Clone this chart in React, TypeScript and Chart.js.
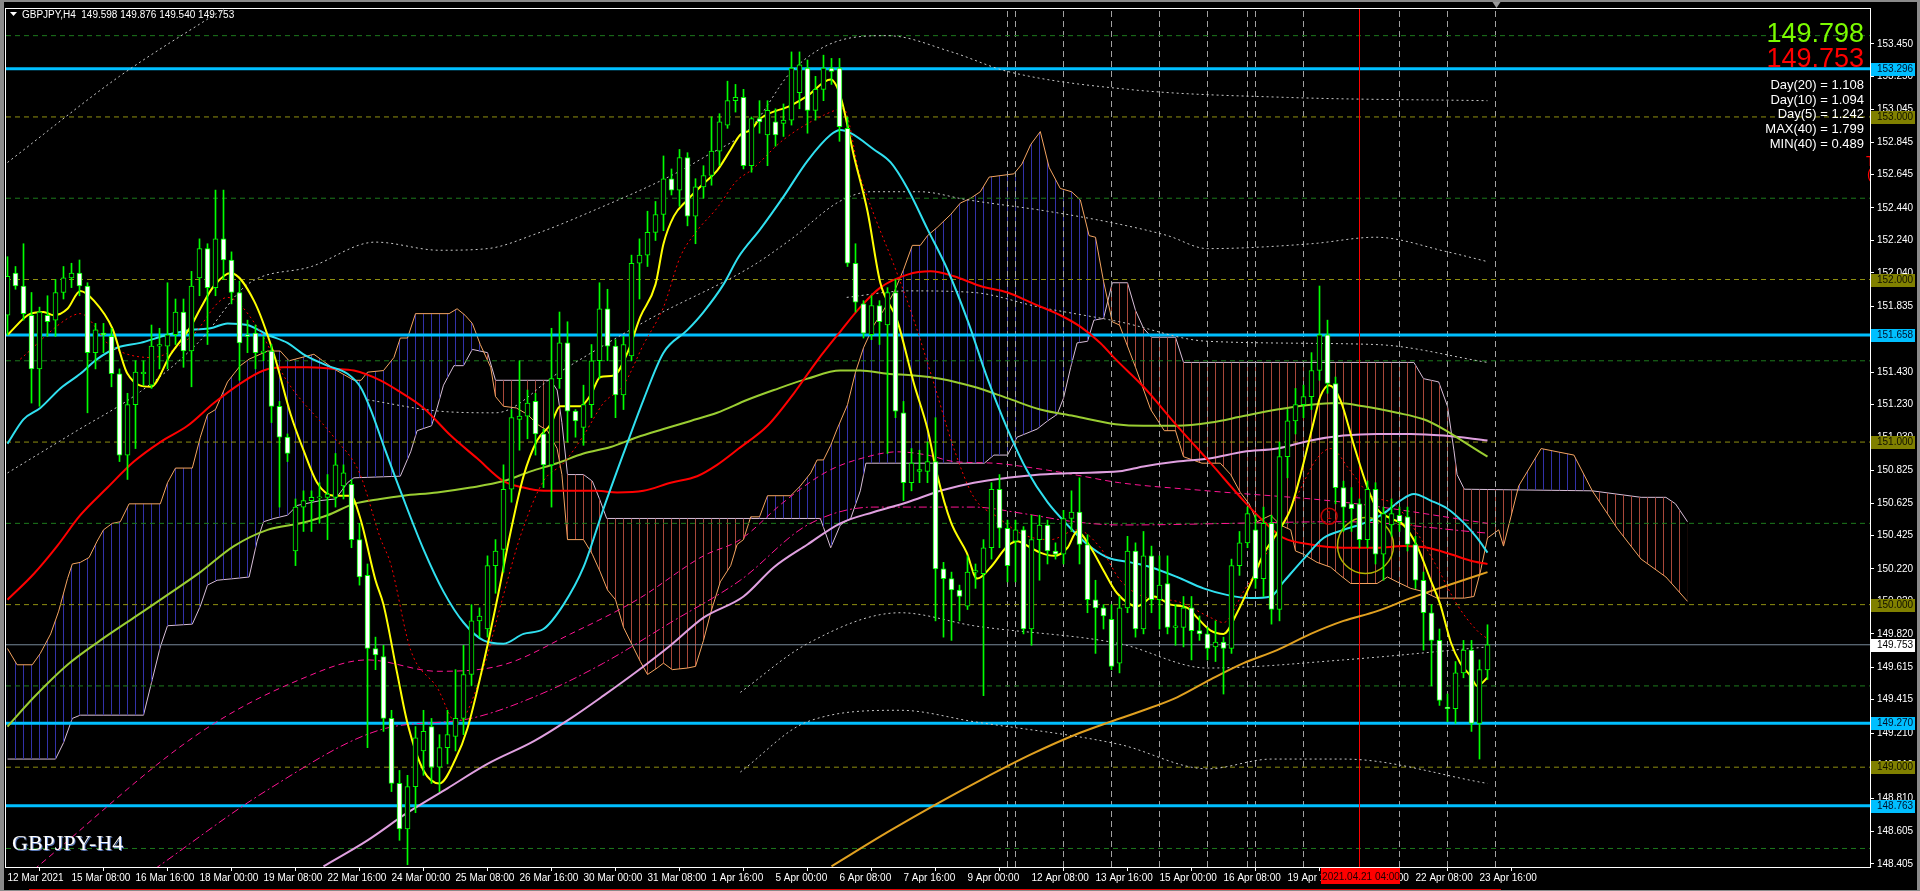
import React, { useEffect, useRef } from 'react';
import { Chart, registerables } from 'chart.js';

Chart.register(...registerables);

type P = [number, number | null];

// ---------------- candles (H4 bars, index 0 = 12 Mar 2021 00:00) ----------------
const opens = [
  151.78,152.04,151.96,151.78,151.45,151.78,151.75,151.92,152.01,152.04,
  151.96,151.55,151.67,151.65,151.42,150.92,151.23,151.42,151.35,151.59,
  151.59,151.66,151.80,151.56,152.01,152.19,151.95,152.25,152.12,151.92,
  151.66,151.67,151.55,151.56,151.22,151.03,150.33,150.60,150.64,150.66,
  150.66,150.66,150.73,150.74,150.40,150.18,149.73,149.68,149.30,148.90,
  148.62,148.88,149.10,149.25,149.00,149.12,149.19,149.30,149.57,149.90,
  149.85,150.24,150.34,150.71,151.14,151.16,151.25,151.05,150.86,151.39,
  151.61,151.19,151.09,151.23,151.50,151.82,151.59,151.29,151.53,152.10,
  152.15,152.29,152.40,152.62,152.55,152.75,152.39,152.57,152.64,152.79,
  152.95,153.10,153.12,152.70,152.99,152.89,152.97,152.96,152.98,153.15,
  153.30,153.04,153.17,153.30,153.30,152.93,152.10,151.85,151.66,151.84,
  151.72,151.92,151.18,150.75,150.82,150.82,150.88,150.22,150.16,150.09,
  149.99,150.20,150.19,150.35,150.71,150.47,150.39,150.46,149.85,150.40,
  150.49,150.33,150.31,150.53,150.57,150.37,150.03,149.98,149.91,149.64,
  149.98,150.33,149.85,150.30,150.03,150.13,149.86,149.86,149.98,149.84,
  149.82,149.74,149.77,149.73,150.24,150.38,150.46,150.16,150.50,149.97,
  150.91,151.13,151.23,151.28,151.44,151.66,151.36,150.72,150.62,150.62,
  150.40,150.71,150.31,150.49,150.55,150.54,150.37,150.15,149.95,149.78,
  149.37,149.36,149.58,149.72,149.27,149.598,
];
const highs = [
  152.14,152.08,152.22,151.92,151.83,151.90,152.00,152.08,152.10,152.12,
  151.98,151.73,151.73,151.70,151.45,151.30,151.50,151.50,151.72,151.70,
  151.98,151.88,151.88,152.05,152.25,152.22,152.55,152.55,152.17,151.99,
  151.75,151.72,151.65,151.60,151.25,151.05,150.65,150.70,150.70,150.75,
  150.80,150.93,150.86,150.77,150.50,150.25,149.80,149.75,149.35,148.98,
  148.95,149.25,149.35,149.30,149.20,149.35,149.60,149.75,150.00,149.98,
  150.30,150.40,150.86,151.20,151.50,151.32,151.30,151.08,151.70,151.80,
  151.74,151.20,151.35,151.60,151.98,151.94,151.63,151.65,152.15,152.25,
  152.42,152.48,152.76,152.68,152.80,152.78,152.62,152.70,153.00,153.02,
  153.22,153.20,153.17,153.00,153.10,153.10,153.05,153.08,153.40,153.40,
  153.35,153.25,153.38,153.36,153.36,153.00,152.22,151.87,151.90,151.87,
  151.95,152.00,151.25,150.96,150.95,151.00,151.15,150.26,150.20,150.12,
  150.30,150.25,150.40,150.75,150.80,150.52,150.52,150.48,150.55,150.55,
  150.52,150.38,150.58,150.70,150.78,150.43,150.15,150.00,150.00,150.05,
  150.42,150.38,150.45,150.36,150.30,150.30,150.00,150.05,150.05,149.93,
  149.86,149.90,149.80,150.28,150.45,150.60,150.55,150.60,150.55,151.00,
  151.20,151.33,151.35,151.55,151.96,151.75,151.40,150.76,150.72,150.65,
  150.76,150.75,150.60,150.65,150.60,150.60,150.42,150.20,150.00,149.85,
  149.45,149.65,149.78,149.78,149.66,149.876,
];
const lows = [
  151.66,151.94,151.75,151.24,151.22,151.65,151.65,151.88,151.95,151.90,
  151.18,151.45,151.55,151.34,150.88,150.77,150.96,151.35,151.33,151.45,
  151.45,151.60,151.46,151.34,151.90,151.60,151.90,152.00,151.85,151.38,
  151.55,151.45,151.50,151.12,150.60,150.88,150.24,150.45,150.45,150.50,
  150.40,150.60,150.65,150.35,150.12,149.12,149.60,149.22,148.85,148.55,
  148.40,148.72,148.95,148.90,148.85,149.02,149.10,149.20,149.50,149.80,
  149.80,150.07,150.20,150.63,150.95,151.02,150.92,150.72,150.60,151.33,
  151.00,151.03,150.98,151.15,151.39,151.50,151.15,151.20,151.50,151.88,
  152.08,152.24,152.30,152.52,152.45,152.33,152.22,152.50,152.58,152.70,
  152.93,153.03,152.68,152.66,152.90,152.70,152.82,152.88,152.95,153.05,
  152.90,152.98,153.10,153.20,152.85,152.08,151.80,151.64,151.63,151.60,
  150.93,151.15,150.64,150.70,150.75,150.75,149.90,149.80,149.78,149.90,
  149.97,150.10,149.44,150.28,150.35,150.14,150.14,149.82,149.75,150.15,
  150.25,150.28,150.25,150.45,150.25,149.95,149.70,149.85,149.60,149.58,
  149.95,149.80,149.82,149.95,149.85,149.82,149.75,149.74,149.66,149.78,
  149.66,149.65,149.45,149.70,150.18,150.35,150.10,150.05,149.88,149.90,
  150.78,151.05,151.15,151.20,151.38,151.30,150.62,150.45,150.45,150.35,
  150.35,150.25,150.15,150.42,150.45,150.33,150.10,149.72,149.50,149.38,
  149.28,149.27,149.55,149.22,149.05,149.540,
];
const closes = [
  152.02,151.96,151.79,151.45,151.80,151.74,151.92,152.01,152.04,151.96,
  151.55,151.69,151.66,151.42,150.92,151.23,151.43,151.43,151.59,151.60,
  151.66,151.80,151.56,151.96,152.19,151.95,152.25,152.12,151.92,151.61,
  151.65,151.55,151.56,151.22,151.03,150.93,150.60,150.64,150.66,150.66,
  150.68,150.86,150.81,150.40,150.17,149.73,149.69,149.30,148.90,148.62,
  148.88,149.18,149.22,149.00,149.12,149.20,149.30,149.57,149.90,149.93,
  150.24,150.33,150.71,151.15,151.16,151.24,151.05,150.86,151.39,151.61,
  151.19,151.13,151.23,151.50,151.82,151.59,151.29,151.60,152.10,152.15,
  152.29,152.40,152.62,152.55,152.75,152.39,152.57,152.64,152.79,152.97,
  153.10,153.12,152.70,152.99,152.97,153.04,152.89,152.98,153.30,153.32,
  153.04,153.17,153.30,153.28,152.94,152.10,151.86,151.67,151.84,151.74,
  151.92,151.19,150.75,150.87,150.83,150.88,150.22,150.16,150.09,150.05,
  150.20,150.21,150.35,150.71,150.47,150.24,150.46,149.85,150.40,150.49,
  150.33,150.31,150.53,150.57,150.37,150.03,149.98,149.93,149.62,149.98,
  150.33,149.85,150.30,150.03,150.12,149.86,149.87,149.98,149.84,149.82,
  149.73,149.77,149.73,150.24,150.38,150.56,150.16,150.50,149.97,150.91,
  151.13,151.23,151.28,151.44,151.66,151.36,150.72,150.60,150.59,150.40,
  150.71,150.31,150.56,150.56,150.51,150.37,150.15,149.95,149.78,149.41,
  149.36,149.58,149.72,149.27,149.60,149.753,
];

// ---------------- axis ticks ----------------
const xTickBars = [0,8,16,24,32,40,48,56,64,72,80,88,96,104,112,120,128,136,144,152,160,168,176,184];
const xTickLabels = [
  '12 Mar 2021','15 Mar 08:00','16 Mar 16:00','18 Mar 00:00','19 Mar 08:00','22 Mar 16:00',
  '24 Mar 00:00','25 Mar 08:00','26 Mar 16:00','30 Mar 00:00','31 Mar 08:00','1 Apr 16:00',
  '5 Apr 00:00','6 Apr 08:00','7 Apr 16:00','9 Apr 00:00','12 Apr 08:00','13 Apr 16:00',
  '15 Apr 00:00','16 Apr 08:00','19 Apr 16:00','21 Apr 00:00','22 Apr 08:00','23 Apr 16:00',
];
const yTicks = [
  153.450,153.250,153.045,152.845,152.645,152.440,152.240,152.040,151.835,151.635,
  151.430,151.230,151.030,150.825,150.625,150.425,150.220,150.020,149.820,149.615,
  149.415,149.210,149.010,148.810,148.605,148.405,
];

// ---------------- levels & markers ----------------
const cyanLevels = [153.296, 151.658, 149.270, 148.763];
const roundLevels = [153.0, 152.0, 151.0, 150.0, 149.0];
const halfLevels = [153.5, 152.5, 151.5, 150.5, 149.5, 148.5];
const lastPrice = 149.753;
const bidPrice = 149.798;
const separatorBars = [125, 126, 132, 138, 144, 150, 155, 156, 162, 174, 180, 186];
const markerBar = 169;
const markerLabel = '2021.04.21 04:00';
const headerText = 'GBPJPY,H4  149.598 149.876 149.540 149.753';
const symbolText = 'GBPJPY-H4';
const statLabels = ['Day(20) = 1.108', 'Day(10) = 1.094', 'Day(5) = 1.242', 'MAX(40) = 1.799', 'MIN(40) = 0.489'];
const edgeText = ['T', '('];
const circleMark = { x: 169.75, y: 150.364 };
const smallMark = { x: 165.2, y: 150.544 };

// ---------------- indicator lines (bar index, price) ----------------
const maFast: P[] = [
  [0,151.66],[2.9,151.79],[4.5,151.80],[5.8,151.78],[7.5,151.82],[9.1,151.93],[10.8,151.87],[13.1,151.70],
  [15,151.42],[17.9,151.34],[20.4,151.54],[22.9,151.71],[24.1,151.82],[25.8,151.96],[27.9,152.04],[30.8,151.87],
  [33.3,151.54],[35.4,151.17],[37,150.95],[38.7,150.75],[40.8,150.67],[42.9,150.67],[44.1,150.53],[46,150.15],
  [47,150.00],[48.7,149.58],[50,149.27],[52,148.98],[54,148.90],[56,149.05],[57.5,149.24],[59.5,149.64],
  [61.2,150.03],[62.9,150.45],[64.5,150.79],[66.2,151.01],[67.9,151.11],[69.1,151.22],[71.6,151.22],[72.9,151.29],
  [74.1,151.40],[75.8,151.41],[77.5,151.55],[79.1,151.77],[81,151.97],[82,152.22],[83.3,152.39],[85,152.49],
  [87,152.59],[88.7,152.67],[90.4,152.80],[91.6,152.89],[92.9,152.92],[94.1,152.99],[97.9,153.07],[100,153.13],
  [102.9,153.23],[104.1,153.13],[105.8,152.76],[107.5,152.42],[109.1,151.98],[111.2,151.75],[113.3,151.36],[115,151.08],
  [116.2,150.80],[117.9,150.51],[119.9,150.32],[121.2,150.16],[122.9,150.23],[125,150.36],[126.2,150.39],[127.9,150.35],
  [129.1,150.32],[130.8,150.30],[132.5,150.35],[133.7,150.45],[135.4,150.35],[137,150.21],[138.7,150.07],[141.2,149.99],
  [143.3,150.05],[145.4,150.00],[147.5,149.98],[148.7,149.92],[150.4,149.84],[152,149.82],[153.7,149.95],[155.4,150.13],
  [157,150.31],[158.7,150.44],[160.4,150.59],[162,150.87],[163.3,151.13],[164.1,151.28],[165.2,151.35],[166.6,151.26],
  [168.3,150.98],[170,150.72],[171.2,150.59],[172.9,150.53],[174.5,150.49],[176.2,150.36],[177.9,150.15],[179.1,150.00],
  [180.4,149.77],[181.6,149.64],[182.9,149.56],[183.7,149.50],[185,149.55],
];
const maDotted: P[] = [
  [1.6,151.51],[7.5,151.76],[9.1,151.79],[12.9,151.59],[18,151.52],[23,151.65],[27.5,151.89],[31.2,151.71],
  [35,151.37],[40.8,151.03],[44,150.81],[46.6,150.41],[47.9,150.25],[50.4,149.72],[53.7,149.49],[56.2,149.27],
  [59.1,149.55],[62,150.06],[64.1,150.42],[67,150.76],[69.5,150.87],[72,151.04],[74.5,151.24],[77,151.35],
  [79.5,151.60],[82,151.83],[84.1,152.14],[86.2,152.30],[88.7,152.44],[91.2,152.61],[92.9,152.67],[97,152.86],
  [102,153.01],[104.5,153.05],[106.5,152.65],[108.3,152.40],[110.8,152.09],[113.3,151.75],[115.8,151.36],[118.3,150.96],
  [120.8,150.66],[123.7,150.54],[127,150.43],[130.4,150.40],[133.7,150.46],[136.6,150.35],[139.1,150.15],[142,150.05],
  [146.2,150.02],[150.4,149.92],[152,149.89],[154.5,150.08],[157.9,150.36],[161.2,150.67],[163.7,150.90],[165.4,150.96],
  [167.9,150.82],[170.4,150.67],[173.3,150.62],[176.2,150.44],[178.7,150.23],[181.2,150.00],[183.7,149.84],[185,149.79],
];
const maCyan: P[] = [
  [0,150.99],[2,151.14],[4.1,151.21],[6.6,151.33],[9.1,151.42],[11.2,151.51],[13.7,151.58],[16.6,151.61],
  [20,151.66],[22.9,151.69],[25.4,151.70],[27.5,151.73],[30,151.72],[32.5,151.66],[35,151.61],[37,151.54],
  [40,151.47],[42.5,151.42],[44.1,151.34],[45.4,151.20],[47,150.98],[49.5,150.65],[52,150.34],[54.5,150.08],
  [57,149.89],[59.5,149.78],[62,149.76],[64.5,149.82],[67,149.85],[69.5,150.00],[72,150.23],[74.5,150.59],
  [77,150.93],[79.5,151.26],[82,151.55],[85,151.69],[87,151.80],[89.5,151.97],[91.4,152.14],[94.1,152.31],
  [97,152.51],[100,152.73],[102.9,152.89],[104.1,152.92],[105.4,152.90],[108.3,152.80],[110.4,152.72],[112.5,152.56],
  [115,152.31],[117.5,152.06],[120,151.75],[122.5,151.39],[125,151.08],[127.5,150.82],[130,150.63],[132.5,150.49],
  [135,150.37],[137.5,150.29],[140.4,150.26],[142.9,150.23],[146.2,150.17],[149.5,150.10],[152.4,150.06],[155.4,150.04],
  [157.9,150.05],[159.5,150.14],[162,150.28],[164.5,150.41],[167,150.46],[169.5,150.50],[172,150.56],[174.1,150.64],
  [175.8,150.68],[177.9,150.64],[180,150.59],[182.1,150.50],[183.7,150.41],[185,150.32],
];
const maRed: P[] = [
  [0,150.03],[3.3,150.19],[6.2,150.36],[9.1,150.55],[12.5,150.72],[15.8,150.88],[19.1,151.00],[22.5,151.10],
  [25.8,151.24],[29.1,151.36],[32,151.44],[34.5,151.46],[37.5,151.46],[40.8,151.45],[43.3,151.44],[46.6,151.38],
  [48.7,151.32],[52,151.21],[55.4,151.04],[58.7,150.90],[62,150.76],[64.5,150.72],[67,150.70],[70.4,150.70],
  [73.7,150.70],[76.2,150.69],[79.5,150.70],[82.9,150.75],[86.2,150.79],[88.7,150.86],[91.4,150.96],[95,151.10],
  [98.3,151.30],[101.2,151.50],[104.1,151.68],[106.6,151.83],[109.1,151.95],[112.5,152.03],[115.4,152.05],[118.3,152.02],
  [121.6,151.96],[125,151.92],[128.3,151.85],[131.6,151.78],[134.1,151.71],[136.6,151.61],[138.5,151.51],[142,151.34],
  [146.2,151.10],[150.4,150.87],[154.5,150.64],[157.5,150.49],[159.5,150.41],[162.9,150.37],[167,150.35],[171.2,150.35],
  [174.5,150.36],[177.5,150.35],[180.4,150.31],[182.9,150.27],[185,150.25],
];
const maLime: P[] = [
  [0,149.25],[3.3,149.43],[7.5,149.63],[11.6,149.78],[15.8,149.92],[20,150.06],[24.1,150.20],[28.3,150.36],
  [32.5,150.46],[36.6,150.50],[40,150.55],[43.3,150.62],[46.6,150.65],[49.5,150.67],[53.7,150.69],[57.9,150.72],
  [62,150.76],[65.4,150.82],[68.7,150.87],[72,150.93],[75.4,150.97],[78.7,151.03],[82,151.08],[85.4,151.13],
  [88.7,151.18],[92.5,151.26],[95.8,151.32],[100,151.39],[104.1,151.44],[106.6,151.44],[110,151.42],[113.3,151.41],
  [116.6,151.39],[120.8,151.34],[125,151.27],[129.1,151.20],[133.3,151.16],[138.5,151.11],[142,151.10],[146.2,151.10],
  [150.4,151.12],[154.5,151.16],[158.7,151.20],[162.9,151.23],[166.2,151.24],[169.5,151.22],[173.7,151.18],[177,151.14],
  [179.5,151.08],[182.1,151.00],[185,150.91],
];
const maPlum: P[] = [
  [39.5,148.39],[45,148.55],[50,148.72],[55,148.87],[60,149.02],[65.8,149.16],[70.4,149.30],[74.5,149.44],
  [78.7,149.59],[82.9,149.75],[87,149.92],[92,150.05],[95.8,150.23],[100,150.37],[104.1,150.50],[108.3,150.57],
  [112.5,150.63],[116.6,150.70],[120.8,150.75],[125,150.78],[129.1,150.80],[133.3,150.81],[139,150.82],[142,150.85],
  [146.2,150.88],[150.4,150.90],[154.5,150.94],[158.7,150.96],[162.9,151.01],[167,151.04],[171.2,151.05],[175.4,151.05],
  [179.5,151.04],[185,151.01],
];
const maGold: P[] = [
  [103,148.39],[110,148.60],[116,148.77],[122,148.93],[128,149.08],[134,149.21],[137.9,149.28],[142,149.35],
  [146.2,149.43],[150.4,149.54],[154.5,149.64],[158.7,149.72],[162.9,149.82],[167,149.90],[171.2,149.96],[175.4,150.04],
  [179.5,150.11],[185,150.20],
];
const pinkDash: P[] = [
  [3.3,148.37],[24,149.21],[36.6,149.54],[45,149.66],[53.7,149.59],[62,149.63],[70.4,149.82],[78.7,150.03],
  [87,150.30],[91.6,150.40],[97,150.63],[102.5,150.82],[107.5,150.91],[111.2,150.94],[115,150.92],[118.3,150.88],
  [123.3,150.87],[128.3,150.84],[133.3,150.80],[139,150.75],[150,150.70],[167,150.63],[185,150.50],
];
const pinkDashDot: P[] = [
  [18.3,148.37],[32.5,148.86],[46.6,149.23],[57.9,149.30],[66.2,149.44],[74.5,149.64],[82.9,149.89],[91.6,150.15],
  [100,150.49],[108.3,150.60],[120.8,150.60],[127,150.56],[133.3,150.51],[139,150.49],[167,150.51],[185,150.44],
];
const envOuterLeft: P[] = [[0,152.72],[14,153.25],[27.5,153.68]];
const envUpper: P[] = [
  [0,150.81],[8,151.05],[16.6,151.31],[24,151.62],[30,151.97],[38,152.08],[46,152.23],[54,152.18],
  [60,152.19],[66,152.28],[74,152.44],[83,152.64],[87,152.75],[93,152.94],[98,153.28],[104,153.47],
  [110,153.50],[118,153.40],[125,153.28],[140,153.17],[160,153.12],[185,153.10],
];
const envMid: P[] = [
  [45,151.26],[54,151.19],[61,151.18],[69,151.43],[80,151.75],[93,152.08],[98,152.25],[104,152.48],
  [108,152.54],[114,152.54],[120,152.49],[130,152.42],[139,152.34],[145,152.27],[150,152.19],[163,152.22],
  [171,152.26],[180,152.17],[185,152.11],
];
const envInner: P[] = [
  [104.9,151.89],[112.5,151.93],[120.8,151.92],[129,151.83],[139,151.74],[150,151.62],[171,151.60],[185,151.49],
];
const envLower: P[] = [
  [91.6,149.46],[100,149.76],[111.6,149.95],[120.8,149.87],[139,149.76],[150,149.61],[167,149.66],[185,149.74],
];
const envLowerOuter: P[] = [
  [91.6,148.97],[100,149.28],[111.6,149.35],[120.8,149.28],[139,149.14],[150,148.99],[158,149.05],[167,149.05],[185,148.90],
];

// ---------------- Ichimoku cloud spans ----------------
const spanA: P[] = [
  [0,149.73],[1.2,149.63],[3.1,149.63],[4.1,149.70],[5.4,149.82],[6.4,149.96],[7.5,150.16],[8.1,150.25],
  [9.1,150.26],[10.2,150.29],[11.2,150.39],[12,150.46],[13.1,150.50],[14.1,150.51],[15.2,150.62],[19.1,150.62],
  [20,150.75],[21,150.84],[23.1,150.84],[24.1,151.03],[25,151.17],[26,151.20],[27.5,151.37],[28.3,151.42],
  [29.1,151.47],[30.2,151.51],[32.5,151.56],[34.1,151.56],[35.2,151.50],[38.3,151.54],[40.8,151.45],[43.3,151.38],
  [44.2,151.38],[45,151.43],[47,151.44],[48.3,151.52],[49.1,151.64],[50,151.64],[51,151.79],[55.2,151.79],
  [56.2,151.82],[57.2,151.78],[58.1,151.73],[59.1,151.60],[60.4,151.46],[61,151.28],[62,151.22],[63.6,151.21],
  [65,151.17],[66.2,151.11],[67.5,151.07],[68.7,150.96],[69.3,150.80],[70,150.40],[72,150.40],[73.1,150.31],
  [74.1,150.20],[75,150.09],[76,150.03],[77,149.86],[78.3,149.73],[79.1,149.65],[80,149.57],[81.2,149.61],
  [82,149.64],[83.1,149.60],[85,149.61],[86,149.62],[87,149.78],[87.9,149.95],[89.1,150.14],[90.4,150.24],
  [91.2,150.37],[92,150.40],[92.9,150.54],[94,150.54],[95,150.67],[97.9,150.67],[99.1,150.73],[100.4,150.81],
  [101.2,150.89],[102,150.89],[102.9,150.98],[103.7,151.08],[105,151.23],[106,151.43],[107,151.58],[108.3,151.72],
  [109.5,151.81],[110.8,151.92],[112,152.06],[113.1,152.21],[114.1,152.21],[115,152.27],[116.2,152.32],[117.9,152.40],
  [119.1,152.47],[120.4,152.50],[121.6,152.54],[122.7,152.63],[125.8,152.65],[126.8,152.71],[127.9,152.83],[129.1,152.91],
  [130.2,152.69],[131.6,152.56],[133,152.54],[134.1,152.49],[135.2,152.27],[136,152.26],[137,151.99],[138.1,151.74],
  [139,151.72],[141,151.46],[142.9,151.20],[144.6,151.07],[146,151.07],[147,150.91],[149.3,150.87],[151.6,150.87],
  [152.9,150.80],[154.1,150.69],[155.2,150.62],[156.2,150.51],[157.9,150.55],[159.1,150.49],[160.4,150.46],[161,150.33],
  [162,150.31],[163.7,150.26],[165.4,150.23],[166.6,150.18],[167.9,150.13],[171.2,150.13],[172.5,150.17],[173.7,150.14],
  [175.4,150.10],[177,150.08],[178.7,150.04],[182.1,150.04],[183.3,150.05],[184.1,150.20],[185,150.41],[186.4,150.46],
  [187,150.36],[188.9,150.73],[191.7,150.96],[195.8,150.92],[198.1,150.70],[201.2,150.47],[204.2,150.28],[207.3,150.17],
  [210,150.02],
];
const spanB: P[] = [
  [0,149.05],[6,149.05],[7,149.15],[8.1,149.30],[9.1,149.32],[17,149.32],[18.1,149.54],[19.1,149.74],
  [20,149.87],[23.1,149.88],[24.1,149.99],[25,150.12],[26.2,150.15],[28.3,150.16],[30.2,150.17],[31.2,150.39],
  [32,150.51],[33.3,150.53],[35,150.55],[36.2,150.61],[39.1,150.64],[41,150.65],[42.5,150.75],[43.3,150.78],
  [49.1,150.79],[50.4,150.94],[51.2,151.07],[53,151.10],[53.7,151.21],[54.5,151.35],[55.8,151.47],[57,151.47],
  [58.1,151.57],[60,151.55],[61,151.38],[67.9,151.38],[68.7,151.32],[69.3,151.12],[70,150.80],[72,150.80],
  [73.1,150.76],[74,150.65],[74.9,150.53],[101.6,150.53],[102.9,150.35],[104.1,150.49],[105.4,150.53],[106.6,150.70],
  [107.3,150.87],[122.1,150.87],[123.3,150.92],[125,150.92],[126.2,151.03],[128.7,151.08],[130,151.13],[131.2,151.17],
  [132,151.27],[132.9,151.46],[133.7,151.61],[135,151.62],[135.8,151.75],[137,151.76],[138.1,151.98],[140,151.98],
  [141,151.81],[142,151.70],[143,151.645],[146,151.645],[147,151.49],[175.8,151.49],[177,151.39],[178.9,151.37],
  [180,151.22],[180.8,150.95],[181.2,150.80],[182.1,150.71],[198.1,150.70],[204.2,150.66],[207.3,150.66],[208.5,150.62],
  [210,150.51],
];

// ---------------- geometry of the scales ----------------
const X_MIN = -0.1875;
const X_MAX = 232.8125;
const Y_MIN = 148.386;
const Y_MAX = 153.664;

const FONT = '"Liberation Sans", Arial, sans-serif';

function hatch(ctx: CanvasRenderingContext2D, color: string): CanvasPattern | string {
  const c = document.createElement('canvas');
  c.width = 8;
  c.height = 1;
  const g = c.getContext('2d');
  if (!g) return color;
  g.fillStyle = color;
  g.fillRect(7, 0, 1, 1);
  return ctx.createPattern(c, 'repeat') || color;
}

const pts = (arr: P[]) => arr.map(([x, y]) => ({ x, y }));

function lineDs(data: P[], color: string, width: number, dash: number[], order: number, smooth = true, extra: any = {}) {
  return {
    type: 'line',
    data: pts(data),
    borderColor: color,
    borderWidth: width,
    borderDash: dash,
    pointRadius: 0,
    pointHoverRadius: 0,
    fill: false,
    order,
    tension: 0,
    cubicInterpolationMode: smooth ? 'monotone' : 'default',
    spanGaps: false,
    ...extra,
  };
}

const chromePlugin = {
  id: 'mtChrome',
  beforeDraw(chart: any) {
    const { ctx, width, height } = chart;
    ctx.save();
    ctx.fillStyle = '#000000';
    ctx.fillRect(0, 0, width, height);
    ctx.restore();
  },
  afterDraw(chart: any) {
    const { ctx, width, height, chartArea: a, scales } = chart;
    const ys = scales.y;
    const xs = scales.x;
    ctx.save();
    // window frame
    ctx.fillStyle = '#8a8a8a';
    ctx.fillRect(0, 0, width, 2);
    ctx.fillRect(0, 0, 4, height);
    ctx.fillRect(width - 3, 0, 3, height);
    ctx.fillRect(0, height - 1, width, 1);
    ctx.fillStyle = '#e00000';
    ctx.fillRect(29, height - 2, 1472, 1);
    // plot border
    ctx.strokeStyle = '#ffffff';
    ctx.lineWidth = 1;
    ctx.strokeRect(a.left - 0.5, a.top - 0.5, a.right - a.left + 1, a.bottom - a.top + 1);

    // header
    ctx.fillStyle = '#ffffff';
    ctx.beginPath();
    ctx.moveTo(10, 12);
    ctx.lineTo(17, 12);
    ctx.lineTo(13.5, 16);
    ctx.closePath();
    ctx.fill();
    ctx.font = '10px ' + FONT;
    ctx.textAlign = 'left';
    ctx.textBaseline = 'alphabetic';
    ctx.fillText(headerText, 22, 18);

    // shift marker
    const sx = Math.round(xs.getPixelForValue(186)) + 0.5;
    ctx.fillStyle = '#9a9a9a';
    ctx.beginPath();
    ctx.moveTo(sx - 4, 2);
    ctx.lineTo(sx + 4, 2);
    ctx.lineTo(sx, 8);
    ctx.closePath();
    ctx.fill();

    // big prices and stats
    ctx.textAlign = 'right';
    ctx.font = '27px ' + FONT;
    ctx.fillStyle = '#7cfc00';
    ctx.fillText(bidPrice.toFixed(3), 1864, 42);
    ctx.fillStyle = '#ff0000';
    ctx.fillText(lastPrice.toFixed(3), 1864, 67);
    ctx.font = '13px ' + FONT;
    ctx.fillStyle = '#ffffff';
    statLabels.forEach((t, k) => ctx.fillText(t, 1864, 89 + k * 14.7));

    // clipped text object at the right edge of the plot
    ctx.save();
    ctx.beginPath();
    ctx.rect(a.left, a.top, a.right - a.left, a.bottom - a.top);
    ctx.clip();
    ctx.fillStyle = '#ff0000';
    ctx.font = '14px ' + FONT;
    ctx.textAlign = 'left';
    ctx.fillText(edgeText[0], a.right - 4, 166);
    ctx.fillText(edgeText[1], a.right - 3, 179);
    ctx.restore();

    // symbol watermark
    ctx.textAlign = 'left';
    ctx.font = '22px "Liberation Serif", "Times New Roman", serif';
    ctx.fillStyle = '#5a78b8';
    ctx.fillText(symbolText, 13, 851);
    ctx.fillStyle = '#ffffff';
    ctx.fillText(symbolText, 12, 850);

    // small red mark text
    ctx.font = '10px ' + FONT;
    ctx.fillStyle = '#d00000';
    ctx.textAlign = 'center';
    ctx.textBaseline = 'middle';
    ctx.fillText('1', xs.getPixelForValue(smallMark.x), ys.getPixelForValue(smallMark.y));

    // price tags on the y axis
    const tag = (v: number, bg: string, fg: string) => {
      const y = Math.round(ys.getPixelForValue(v));
      ctx.fillStyle = bg;
      ctx.fillRect(a.right + 1, y - 6, 44, 13);
      ctx.fillStyle = fg;
      ctx.font = '10px ' + FONT;
      ctx.textAlign = 'left';
      ctx.textBaseline = 'middle';
      ctx.fillText(v.toFixed(3), a.right + 7, y + 0.5);
    };
    roundLevels.forEach((v) => tag(v, '#808000', '#101000'));
    cyanLevels.forEach((v) => tag(v, '#00bfff', '#00102a'));
    tag(lastPrice, '#ffffff', '#000000');

    // time tag on the x axis
    const mx = Math.round(xs.getPixelForValue(markerBar));
    ctx.fillStyle = '#ff0000';
    ctx.fillRect(mx - 39, a.bottom + 1, 79, 16);
    ctx.fillStyle = '#200000';
    ctx.font = '10px ' + FONT;
    ctx.textAlign = 'center';
    ctx.textBaseline = 'middle';
    ctx.fillText(markerLabel, mx + 1, a.bottom + 10);
    ctx.restore();
  },
};

export default function App() {
  const ref = useRef<HTMLCanvasElement | null>(null);

  useEffect(() => {
    const canvas = ref.current;
    if (!canvas) return;
    const ctx = canvas.getContext('2d') as CanvasRenderingContext2D;
    const blueHatch = hatch(ctx, '#3232a8');
    const brownHatch = hatch(ctx, '#a8483a');

    const bodyData = closes.map((c, i) => {
      let lo = Math.min(opens[i], c);
      let hi = Math.max(opens[i], c);
      if (hi - lo < 0.007) {
        const m = (hi + lo) / 2;
        lo = m - 0.0035;
        hi = m + 0.0035;
      }
      return { x: i, y: [lo, hi] };
    });
    const bodyFill = closes.map((c, i) => (c >= opens[i] ? '#000000' : '#ffffff'));
    const wickData = highs.map((h, i) => ({ x: i, y: [lows[i], h] }));

    const hLine = (v: number) => [[X_MIN, v], [X_MAX, v]] as P[];
    const vLine = (b: number) => [[b, Y_MIN], [b, Y_MAX]] as P[];

    const datasets: any[] = [
      {
        type: 'bar',
        data: bodyData,
        backgroundColor: bodyFill,
        borderColor: '#00ff00',
        borderWidth: 1,
        borderSkipped: false,
        barThickness: 5,
        grouped: false,
        order: 0,
      },
      {
        type: 'bar',
        data: wickData,
        backgroundColor: '#00ff00',
        borderWidth: 0,
        barThickness: 1,
        grouped: false,
        order: 1,
      },
      {
        type: 'bubble',
        data: [{ x: circleMark.x, y: circleMark.y, r: 28 }, { x: smallMark.x, y: smallMark.y, r: 8 }],
        backgroundColor: 'rgba(0,0,0,0)',
        borderColor: ['#b4b400', '#c00000'],
        borderWidth: 1.5,
        order: 2,
      },
      lineDs(maFast, '#ffff00', 2, [], 3),
      lineDs(maDotted, '#ff0000', 1, [2, 3], 4),
      lineDs(maCyan, '#30e0f0', 2, [], 5),
      lineDs(maRed, '#ff0000', 2, [], 6),
      lineDs(maLime, '#9acd32', 2, [], 7),
      lineDs(maPlum, '#e0a0e0', 2, [], 8),
      lineDs(maGold, '#e0a020', 2, [], 9),
      lineDs(pinkDash, '#ff1493', 1, [6, 4], 10),
      lineDs(pinkDashDot, '#ff1493', 1, [8, 3, 2, 3], 11),
      lineDs(envOuterLeft, '#c8c8c8', 1, [2, 3], 12),
      lineDs(envUpper, '#c8c8c8', 1, [2, 3], 12),
      lineDs(envMid, '#c8c8c8', 1, [2, 3], 12),
      lineDs(envInner, '#c8c8c8', 1, [2, 3], 12),
      lineDs(envLower, '#c8c8c8', 1, [2, 3], 12),
      lineDs(envLowerOuter, '#c8c8c8', 1, [2, 3], 12),
      lineDs(vLine(markerBar), '#ff0000', 1, [], 13, false),
      lineDs(hLine(lastPrice), '#778899', 1, [], 14, false),
      ...cyanLevels.map((v) => lineDs(hLine(v), '#00bfff', 3, [], 15, false)),
      ...roundLevels.map((v) => lineDs(hLine(v), '#8f8f10', 1, [5, 4], 16, false)),
      ...halfLevels.map((v) => lineDs(hLine(v), '#1d7a1d', 1, [5, 4], 16, false)),
      ...separatorBars.map((b) => lineDs(vLine(b), '#a0a0a0', 1, [6, 4], 17, false)),
      lineDs(spanA, '#f4a460', 1, [], 30, false, {
        fill: { target: '+1', above: blueHatch, below: brownHatch },
      }),
      lineDs(spanB, '#d8bfd8', 1, [], 31, false),
    ];

    const chart = new Chart(canvas, {
      type: 'bar',
      data: { datasets },
      plugins: [chromePlugin],
      options: {
        responsive: false,
        animation: false,
        devicePixelRatio: 1,
        events: [],
        layout: { autoPadding: false, padding: { left: 6, top: 6, right: 0, bottom: 0 } },
        plugins: {
          legend: { display: false },
          tooltip: { enabled: false },
        },
        scales: {
          x: {
            type: 'linear',
            min: X_MIN,
            max: X_MAX,
            offset: false,
            afterFit: (s: any) => { s.height = 24; },
            afterBuildTicks: (s: any) => { s.ticks = xTickBars.map((v) => ({ value: v })); },
            ticks: {
              color: '#ffffff',
              font: { family: FONT, size: 10 },
              align: 'start',
              maxRotation: 0,
              minRotation: 0,
              autoSkip: false,
              padding: 1,
              callback: (v: any) => {
                const k = xTickBars.indexOf(Number(v));
                return k >= 0 ? xTickLabels[k] : '';
              },
            },
            grid: { drawOnChartArea: false, drawTicks: true, tickLength: 4, tickColor: '#ffffff', color: '#ffffff' },
            border: { display: false },
          },
          y: {
            type: 'linear',
            position: 'right',
            min: Y_MIN,
            max: Y_MAX,
            afterFit: (s: any) => { s.width = 50; },
            afterBuildTicks: (s: any) => { s.ticks = yTicks.map((v) => ({ value: v })); },
            ticks: {
              color: '#ffffff',
              font: { family: FONT, size: 10 },
              padding: 3,
              autoSkip: false,
              callback: (v: any) => Number(v).toFixed(3),
            },
            grid: { drawOnChartArea: false, drawTicks: true, tickLength: 4, tickColor: '#ffffff', color: '#ffffff' },
            border: { display: false },
          },
        },
      } as any,
    } as any);

    return () => chart.destroy();
  }, []);

  return (
    <div style={{ position: 'fixed', left: 0, top: 0, width: 1920, height: 891, background: '#000' }}>
      <canvas ref={ref} width={1920} height={891} style={{ display: 'block', width: 1920, height: 891 }} />
    </div>
  );
}
